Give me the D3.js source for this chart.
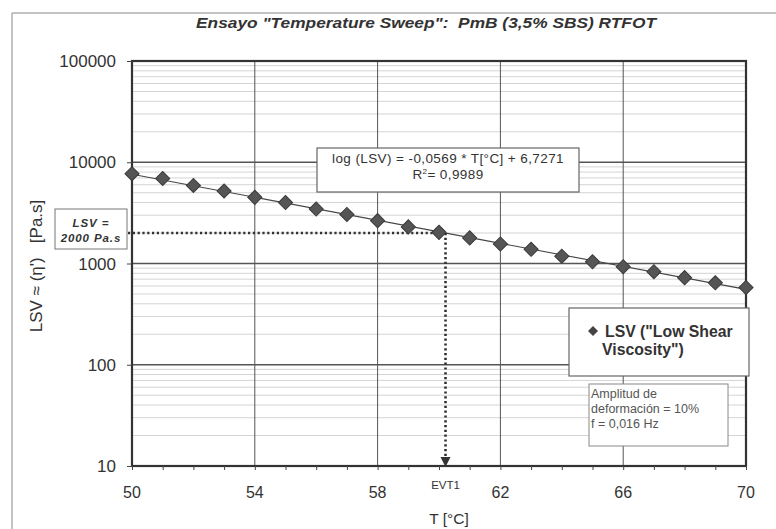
<!DOCTYPE html>
<html>
<head>
<meta charset="utf-8">
<script src="https://cdn.jsdelivr.net/npm/d3@7/dist/d3.min.js"></script>
<style>
  html, body { margin: 0; padding: 0; background: #fff; }
  svg { display: block; font-family: "Liberation Sans", Arial, sans-serif; }
</style>
</head>
<body>
<svg id="chart" width="776" height="529"></svg>
<script>
// Temperature sweep, PmB (3,5% SBS) RTFOT – low shear viscosity vs temperature
const temperatures = [50, 51, 52, 53, 54, 55, 56, 57, 58, 59, 60, 61, 62, 63, 64, 65, 66, 67, 68, 69, 70];
const lsvValues = [7700, 6900, 5900, 5200, 4500, 4000, 3450, 3050, 2650, 2300, 2030, 1790, 1560, 1380, 1180, 1040, 930, 830, 725, 645, 580];
const xTicks = [50, 54, 58, 62, 66, 70];
const yTicks = [10, 100, 1000, 10000, 100000];
// log-linear fit stated in the chart: log(LSV) = a*T + b
const fitSlope = -0.0569;
const fitIntercept = 6.7271;
const targetLSV = 2000;

const svg = d3.select("#chart");
const ink = "#333";

const plot = { left: 132, top: 61, right: 746, bottom: 466 };
const x = d3.scaleLinear().domain([50, 70]).range([plot.left, plot.right]);
const y = d3.scaleLog().domain([10, 100000]).range([plot.bottom, plot.top]);

// outer frame
svg.append("path")
  .attr("d", "M12,540 L12,13 L790,13")
  .attr("fill", "none").attr("stroke", "#888").attr("stroke-width", 1);

// title
svg.append("text")
  .attr("x", 196).attr("y", 28)
  .attr("textLength", 460).attr("lengthAdjust", "spacingAndGlyphs")
  .attr("xml:space", "preserve")
  .attr("font-size", 14.5).attr("font-weight", "bold").attr("font-style", "italic")
  .attr("fill", ink)
  .text('Ensayo "Temperature Sweep":  PmB (3,5% SBS) RTFOT');

// minor horizontal grid
const minor = [];
for (let d = 10; d < 100000; d *= 10) for (let k = 2; k <= 9; k++) minor.push(d * k);
svg.append("g").selectAll("line").data(minor).join("line")
  .attr("x1", plot.left).attr("x2", plot.right)
  .attr("y1", d => y(d)).attr("y2", d => y(d))
  .attr("stroke", "#d4d4d4").attr("stroke-width", 1);

// major horizontal grid
svg.append("g").selectAll("line").data(yTicks).join("line")
  .attr("x1", plot.left).attr("x2", plot.right)
  .attr("y1", d => y(d)).attr("y2", d => y(d))
  .attr("stroke", "#555").attr("stroke-width", 1.5);

// major vertical grid
svg.append("g").selectAll("line").data(xTicks).join("line")
  .attr("y1", plot.top).attr("y2", plot.bottom)
  .attr("x1", d => x(d)).attr("x2", d => x(d))
  .attr("stroke", "#555").attr("stroke-width", 1);

// plot border
svg.append("rect")
  .attr("x", plot.left).attr("y", plot.top)
  .attr("width", plot.right - plot.left).attr("height", plot.bottom - plot.top)
  .attr("fill", "none").attr("stroke", "#333").attr("stroke-width", 2.2);

// x axis with minor ticks every degree
const xAxis = d3.axisBottom(x).tickValues(d3.range(50, 71, 1)).tickSize(4).tickFormat("");
const gx = svg.append("g").attr("transform", `translate(0,${plot.bottom})`).call(xAxis);
gx.select(".domain").remove();
gx.selectAll("line").attr("stroke", "#444");
svg.append("g").selectAll("text").data(xTicks).join("text")
  .attr("x", d => x(d)).attr("y", 498)
  .attr("text-anchor", "middle").attr("font-size", 16).attr("fill", ink)
  .text(d => d);

// y axis
const yAxis = d3.axisLeft(y).tickValues(yTicks).tickSize(5).tickFormat("");
const gy = svg.append("g").attr("transform", `translate(${plot.left},0)`).call(yAxis);
gy.select(".domain").remove();
gy.selectAll("line").attr("stroke", "#444");
svg.append("g").selectAll("text").data(yTicks).join("text")
  .attr("x", 116).attr("y", d => y(d) + 6)
  .attr("text-anchor", "end").attr("font-size", 17).attr("fill", ink)
  .text(d => d);

// axis titles
svg.append("text")
  .attr("x", 449).attr("y", 524)
  .attr("text-anchor", "middle").attr("font-size", 15.5).attr("fill", ink)
  .text("T [°C]");
svg.append("text")
  .attr("transform", "translate(42,266) rotate(-90)")
  .attr("text-anchor", "middle").attr("font-size", 17).attr("fill", ink)
  .attr("xml:space", "preserve")
  .text("LSV ≈ (η')   [Pa.s]");

// fitted trend line
const fit = t => Math.pow(10, fitSlope * t + fitIntercept);
svg.append("path")
  .datum([50, 70])
  .attr("d", d3.line().x(t => x(t)).y(t => y(fit(t))))
  .attr("stroke", "#444").attr("stroke-width", 1.1).attr("fill", "none");

// EVT1: temperature where the fit reaches the target viscosity
const evtT = (Math.log10(targetLSV) - fitIntercept) / fitSlope;
const dotted = { stroke: "#333", "stroke-width": 2.6, "stroke-dasharray": "2.2 2.6" };
const hLine = svg.append("line")
  .attr("x1", 128).attr("x2", x(evtT))
  .attr("y1", y(targetLSV)).attr("y2", y(targetLSV));
const vLine = svg.append("line")
  .attr("x1", x(evtT)).attr("x2", x(evtT))
  .attr("y1", y(targetLSV)).attr("y2", plot.bottom - 8);
[hLine, vLine].forEach(l => Object.entries(dotted).forEach(([k, v]) => l.attr(k, v)));
svg.append("path")
  .attr("d", `M${x(evtT) - 5},${plot.bottom - 9} L${x(evtT) + 5},${plot.bottom - 9} L${x(evtT)},${plot.bottom + 1} Z`)
  .attr("fill", "#333");
svg.append("text")
  .attr("x", x(evtT)).attr("y", 489)
  .attr("text-anchor", "middle").attr("font-size", 11.5).attr("fill", ink)
  .text("EVT1");

// data markers
svg.append("g").selectAll("path").data(temperatures).join("path")
  .attr("transform", (t, i) => `translate(${x(t)},${y(lsvValues[i])}) rotate(45)`)
  .attr("d", d3.symbol().type(d3.symbolSquare).size(100))
  .attr("fill", "#555").attr("stroke", "#3a3a3a").attr("stroke-width", 1);

// equation box
svg.append("rect").attr("x", 317).attr("y", 148).attr("width", 262).attr("height", 44)
  .attr("fill", "#fff").attr("stroke", "#666").attr("stroke-width", 1.2);
svg.append("text").attr("x", 448).attr("y", 162.5)
  .attr("text-anchor", "middle").attr("font-size", 13.5).attr("letter-spacing", 0.4).attr("fill", ink)
  .text("log (LSV) = -0,0569 * T[°C] + 6,7271");
const r2 = svg.append("text").attr("x", 448).attr("y", 178.5)
  .attr("text-anchor", "middle").attr("font-size", 13.5).attr("letter-spacing", 0.4).attr("fill", ink);
r2.append("tspan").text("R");
r2.append("tspan").attr("font-size", 8).attr("dy", -5).text("2");
r2.append("tspan").attr("dy", 5).text("= 0,9989");

// target viscosity label
svg.append("rect").attr("x", 55).attr("y", 209).attr("width", 72).attr("height", 40)
  .attr("fill", "#fff").attr("stroke", "#777").attr("stroke-width", 1);
[["LSV =", 227], ["2000 Pa.s", 242]].forEach(([s, yy]) => {
  svg.append("text").attr("x", 91).attr("y", yy)
    .attr("text-anchor", "middle").attr("font-size", 11.5).attr("letter-spacing", 0.9)
    .attr("font-weight", "bold").attr("font-style", "italic")
    .attr("fill", ink).text(s);
});

// legend
svg.append("rect").attr("x", 569).attr("y", 308).attr("width", 180).attr("height", 68)
  .attr("fill", "#fff").attr("stroke", "#666").attr("stroke-width", 1.2);
svg.append("path")
  .attr("transform", "translate(593,331) rotate(45)")
  .attr("d", d3.symbol().type(d3.symbolSquare).size(50))
  .attr("fill", "#444");
svg.append("text").attr("x", 605).attr("y", 337)
  .attr("font-size", 15.8).attr("font-weight", "bold").attr("fill", ink)
  .text('LSV ("Low Shear');
svg.append("text").attr("x", 602).attr("y", 355)
  .attr("font-size", 15.8).attr("font-weight", "bold").attr("fill", ink)
  .text('Viscosity")');

// test conditions
svg.append("rect").attr("x", 589).attr("y", 384).attr("width", 139).attr("height", 62)
  .attr("fill", "#fff").attr("stroke", "#888").attr("stroke-width", 1);
["Amplitud de", "deformación = 10%", "f = 0,016 Hz"].forEach((s, i) => {
  svg.append("text").attr("x", 591).attr("y", 398 + i * 15)
    .attr("font-size", 12.5).attr("fill", "#555").text(s);
});
</script>
</body>
</html>
